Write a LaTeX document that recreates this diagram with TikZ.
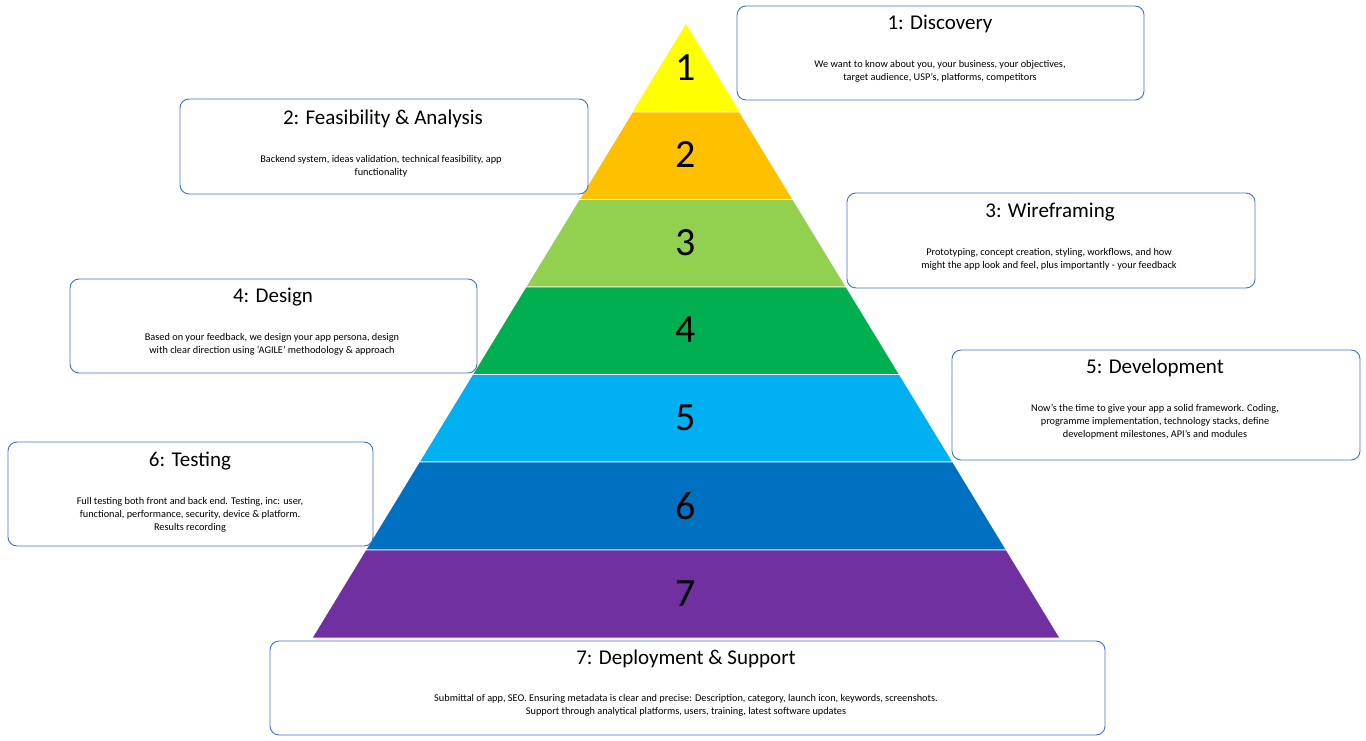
\documentclass[tikz,border=0pt]{standalone}
\usepackage{fontspec}
\setmainfont{Carlito}
\begin{document}
\begin{tikzpicture}[x=1pt,y=-1pt,
  box/.style={draw=blue!55!black!60!cyan, draw={rgb,255:red,68;green,114;blue,196}, line width=0.9pt, rounded corners=9pt, fill=white},
  ttl/.style={font=\fontsize{21}{24}\selectfont, anchor=center},
  txt/.style={font=\fontsize{10.3}{13}\selectfont, align=center, anchor=north},
  num/.style={font=\fontsize{40}{44}\selectfont}]
\useasboundingbox (0,0) rectangle (1366,741);
\definecolor{c1}{HTML}{FFFF00}\definecolor{c2}{HTML}{FFC000}\definecolor{c3}{HTML}{92D050}
\definecolor{c4}{HTML}{00B050}\definecolor{c5}{HTML}{00B0F0}\definecolor{c6}{HTML}{0070C0}\definecolor{c7}{HTML}{7030A0}
\def\L#1{686-0.6091*(#1-24)}\def\R#1{686+0.6091*(#1-24)}
\fill[c1] (686,24) -- ({\R{112}},112) -- ({\L{112}},112) -- cycle;
\foreach \i/\a/\b in {2/112/199.5,3/199.5/287,4/287/374.5,5/374.5/462,6/462/550,7/550/638}{
  \fill[c\i,draw=white,line width=0.8pt] ({\L{\a}},\a) -- ({\R{\a}},\a) -- ({\R{\b}},\b) -- ({\L{\b}},\b) -- cycle;}
\foreach \i/\y in {1/68,2/155,3/243,4/330,5/418,6/506,7/594}{\node[num] (n\i) at (686,\y) {\i};}
% boxes
\draw[box] (737,6) rectangle (1144,100);
\node[ttl] (t1) at (940,24) {1: Discovery};
\node[txt] (d1) at (940,57) {We want to know about you, your business, your objectives,\\target audience, USP’s, platforms, competitors};
\draw[box] (180,99) rectangle (588,194);
\node[ttl] (t2) at (383,119) {2: Feasibility \& Analysis};
\node[txt] (d2) at (381,152) {Backend system, ideas validation, technical feasibility, app\\functionality};
\draw[box] (847,193) rectangle (1255,288);
\node[ttl] (t3) at (1050,212) {3: Wireframing};
\node[txt] (d3) at (1049,245) {Prototyping, concept creation, styling, workflows, and how\\might the app look and feel, plus importantly - your feedback};
\draw[box] (70,279) rectangle (477,373);
\node[ttl] (t4) at (273,297) {4: Design};
\node[txt] (d4) at (272,330) {Based on your feedback, we design your app persona, design\\with clear direction using ‘AGILE’ methodology \& approach};
\draw[box] (952,350) rectangle (1360,460);
\node[ttl] (t5) at (1155,368) {5: Development};
\node[txt] (d5) at (1155,401) {Now’s the time to give your app a solid framework. Coding,\\programme implementation, technology stacks, define\\development milestones, API’s and modules};
\draw[box] (8,442) rectangle (373,546);
\node[ttl] (t6) at (190,461) {6: Testing};
\node[txt] (d6) at (190,494) {Full testing both front and back end. Testing, inc: user,\\functional, performance, security, device \& platform.\\Results recording};
\draw[box] (270,641) rectangle (1105,735);
\node[ttl] (t7) at (686,659) {7: Deployment \& Support};
\node[txt] (d7) at (686,691) {Submittal of app, SEO. Ensuring metadata is clear and precise: Description, category, launch icon, keywords, screenshots.\\Support through analytical platforms, users, training, latest software updates};
\end{tikzpicture}
\end{document}
